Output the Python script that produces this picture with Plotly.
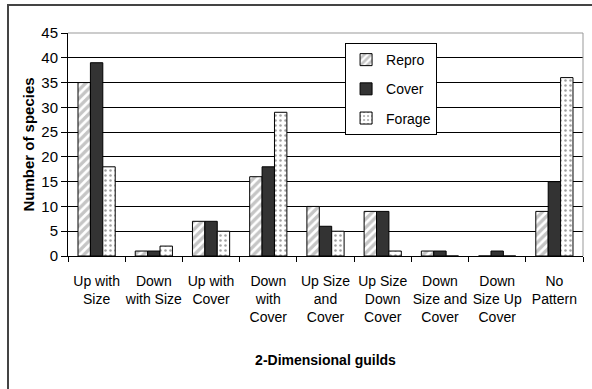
import plotly.graph_objects as go

categories = ["Up with<br>Size", "Down<br>with Size", "Up with<br>Cover", "Down<br>with<br>Cover",
              "Up Size<br>and<br>Cover", "Up Size<br>Down<br>Cover", "Down<br>Size and<br>Cover",
              "Down<br>Size Up<br>Cover", "No<br>Pattern"]
repro = [35, 1, 7, 16, 10, 9, 1, 0, 9]
cover = [39, 1, 7, 18, 6, 9, 1, 1, 15]
forage = [18, 2, 5, 29, 5, 1, 0, 0, 36]
y_ticks = [0, 5, 10, 15, 20, 25, 30, 35, 40, 45]

FONT = "Liberation Sans, Arial, sans-serif"

fig = go.Figure()
fig.add_trace(go.Bar(name="Repro", x=categories, y=repro, legendgroup="r",
                     marker=dict(color="white", line=dict(color="black", width=1),
                                 pattern=dict(shape="/", fgcolor="#8c8c8c", bgcolor="white",
                                              size=6, solidity=0.55))))
fig.add_trace(go.Bar(name="Cover", x=categories, y=cover, legendgroup="c",
                     marker=dict(color="#333333", line=dict(color="black", width=1))))
fig.add_trace(go.Bar(name="Forage", x=categories, y=forage, legendgroup="f",
                     marker=dict(color="white", line=dict(color="black", width=1),
                                 pattern=dict(shape=".", fgcolor="#444444", bgcolor="white",
                                              size=5, solidity=0.2))))

fig.update_layout(
    width=592, height=389,
    margin=dict(l=68, r=9, t=33, b=133, autoexpand=False),
    paper_bgcolor="white", plot_bgcolor="white",
    barmode="group", bargap=0.35, bargroupgap=0,
    font=dict(family=FONT, size=14, color="black"),
    showlegend=True,
    legend=dict(x=0.538, y=0.955, xanchor="left", yanchor="top",
                bgcolor="white", bordercolor="black", borderwidth=1,
                font=dict(size=14), tracegroupgap=8, itemwidth=30,
                traceorder="grouped"),
    xaxis=dict(showline=True, linecolor="black", linewidth=1, ticks="outside",
               tickson="boundaries", ticklen=5, tickcolor="black", tickangle=0,
               ticklabelstandoff=12,
               showgrid=False, tickfont=dict(size=14), automargin=False,
               title=dict(text="<b>2-Dimensional guilds</b>", font=dict(size=14), standoff=30)),
    yaxis=dict(range=[0, 45], tickvals=y_ticks, showline=True, linecolor="black", linewidth=1,
               ticks="outside", ticklen=6, tickcolor="black", automargin=False,
               showgrid=True, gridcolor="black", gridwidth=1, zeroline=False,
               tickfont=dict(size=15),
               title=dict(text="<b>Number of species</b>", font=dict(size=15), standoff=3)),
)

# plot area border (grey top and right)
fig.add_shape(type="line", xref="paper", yref="paper", x0=0, x1=1, y0=1, y1=1,
              line=dict(color="#999999", width=1))
fig.add_shape(type="line", xref="paper", yref="paper", x0=1, x1=1, y0=0, y1=1,
              line=dict(color="#999999", width=1))
# outer chart border
fig.add_shape(type="rect", xref="paper", yref="paper", x0=-0.1165, x1=1.05, y0=-0.62, y1=1.1256,
              line=dict(color="#444444", width=2))

fig.write_html("out.html", config={"displayModeBar": False},
               post_script="document.body.style.margin='0';")
